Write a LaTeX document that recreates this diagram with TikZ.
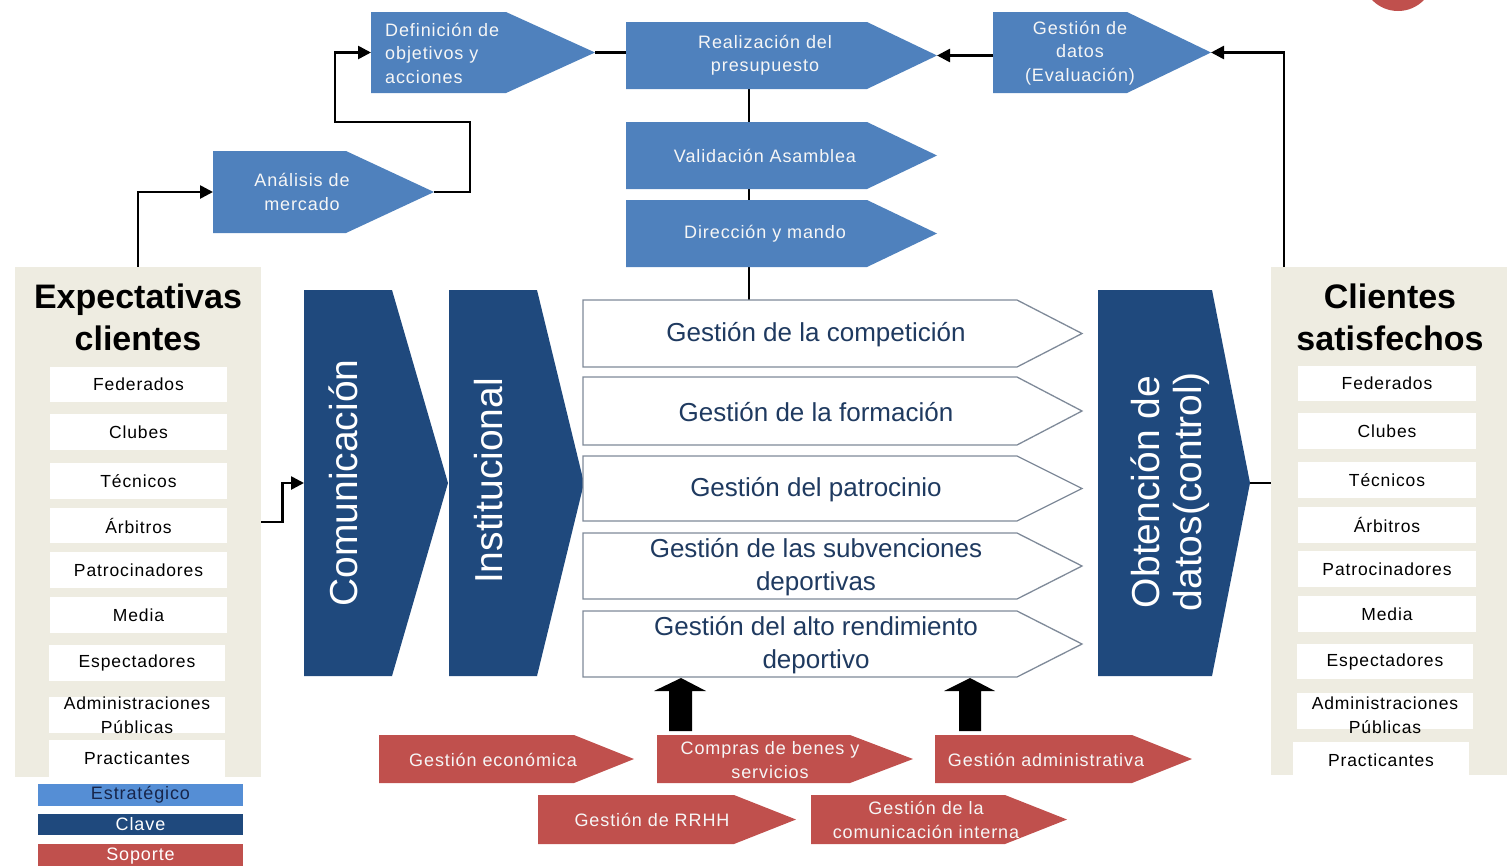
\documentclass[tikz,border=0pt]{standalone}
\usepackage{fontspec}
\setmainfont{Liberation Sans}
\newfontfamily\spaced[LetterSpace=5]{Liberation Sans}
\usetikzlibrary{arrows.meta}
\definecolor{sblue}{HTML}{4F81BD}
\definecolor{kblue}{HTML}{1F497D}
\definecolor{sred}{HTML}{C0504D}
\definecolor{beige}{HTML}{EEECE1}
\definecolor{lblue}{HTML}{558ED5}
\definecolor{navytxt}{HTML}{1F3A60}
\definecolor{legtxt}{HTML}{17254A}
\definecolor{wtxt}{HTML}{F6F6F6}
\definecolor{outl}{HTML}{7F8A99}
\newcommand\fsz[2]{\fontsize{#1}{#2}\selectfont}
% chevron: name, style, x-left, y-top, x-rect-end, x-tip, y-bottom
\newcommand\chev[7]{%
  \path[#2] (#3,#4) -- (#5,#4) -- (#6,{(#4+#7)/2}) -- (#5,#7) -- (#3,#7) -- cycle;
  \coordinate (#1-w) at (#3,{(#4+#7)/2});
  \coordinate (#1-e) at (#6,{(#4+#7)/2});}
% box node: name, style, x1, y1, x2, y2, text
\newcommand\bx[7]{\node[#2, minimum width={#5-#3}, minimum height={#6-#4}] (#1) at ({(#3+#5)/2},{(#4+#6)/2}) {#7};}
\begin{document}
\begin{tikzpicture}[x=1pt,y=-1pt,
  conn/.style={line width=2.6pt, -{Triangle[length=13pt,width=13pt]}},
  plain/.style={line width=2.6pt},
  stxt/.style={text=wtxt, font=\spaced\fsz{18}{23.5}, align=center, inner sep=0},
  ktxt/.style={text=white, font=\fsz{39}{42}, align=center, inner sep=0},
  gtxt/.style={text=navytxt, font=\fsz{26}{33}, align=center, inner sep=0},
  item/.style={fill=white, inner sep=0, text=black, font=\spaced\fsz{17.5}{24}, align=center},
  ttl/.style={font=\bfseries\fsz{34}{42}, align=center, inner sep=0, text=black},
  leg/.style={inner sep=0, font=\spaced\fsz{18}{20}},
  wchev/.style={draw=outl, fill=white, line width=1.3pt}]
\useasboundingbox (0,0) rectangle (1507,865);
\begin{scope}
\clip (0,0) rectangle (1507,865);
\fill[sred] (1398,-25) circle[radius=36];
\end{scope}

% side boxes
\bx{exp}{fill=beige,inner sep=0}{15}{267}{261}{777}{}
\bx{cs}{fill=beige,inner sep=0}{1271}{267}{1507}{775}{}
\node[ttl] (exp-t) at (138,317) {Expectativas\\clientes};
\node[ttl] (cs-t) at (1390,317) {Clientes\\satisfechos};

% left items
\bx{L1}{item}{50}{367}{227}{402}{Federados}
\bx{L2}{item}{50}{414}{227}{450}{Clubes}
\bx{L3}{item}{50}{463}{227}{499}{Técnicos}
\bx{L4}{item}{50}{508}{227}{543}{Árbitros}
\bx{L5}{item}{50}{552}{227}{588}{Patrocinadores}
\bx{L6}{item}{50}{597}{227}{633}{Media}
\bx{L7}{item}{49}{645}{225}{681}{Espectadores}
\bx{L8}{item}{49}{697}{225}{733}{}
\node[item, fill=none] (L8t) at (137,715) {Administraciones\\Públicas};
\bx{L9}{item}{49}{740}{225}{777}{Practicantes}
% right items
\bx{R1}{item}{1298}{366}{1476}{401}{Federados}
\bx{R2}{item}{1298}{413}{1476}{449}{Clubes}
\bx{R3}{item}{1298}{462}{1476}{498}{Técnicos}
\bx{R4}{item}{1298}{507}{1476}{543}{Árbitros}
\bx{R5}{item}{1298}{551}{1476}{587}{Patrocinadores}
\bx{R6}{item}{1298}{596}{1476}{632}{Media}
\bx{R7}{item}{1297}{644}{1473}{679}{Espectadores}
\bx{R8}{item}{1297}{693}{1473}{729}{}
\node[item, fill=none] (R8t) at (1385,715) {Administraciones\\Públicas};
\bx{R9}{item}{1293}{742}{1469}{778}{Practicantes}

% legend
\bx{lg1}{leg, fill=lblue, text=legtxt}{38}{784}{243}{806}{Estratégico}
\bx{lg2}{leg, fill=kblue, text=white}{38}{814}{243}{835}{Clave}
\bx{lg3}{leg, fill=sred, text=white}{38}{844}{243}{868}{Soporte}

% vertical spine
\coordinate (rea-s) at (749,89);
\coordinate (g1-n) at (749,300);
\draw[line width=2pt] (rea-s) -- (g1-n);

% strategic chevrons
\chev{def}{fill=sblue}{371}{12}{506}{595}{93}
\chev{ana}{fill=sblue}{213}{151}{346}{434}{233}
\chev{rea}{fill=sblue}{626}{22}{867}{937}{89}
\chev{val}{fill=sblue}{626}{122}{867}{937}{189}
\chev{dir}{fill=sblue}{626}{200}{867}{937}{267}
\chev{gd}{fill=sblue}{993}{12}{1127}{1211}{93}
\node[stxt, align=left, anchor=west] (def-t) at (385,53) {Definición de\\objetivos y\\acciones};
\node[stxt] (ana-t) at (302,192) {Análisis de\\mercado};
\node[stxt] (rea-t) at (765,55) {Realización del\\presupuesto};
\node[stxt] (val-t) at (765,156) {Validación Asamblea};
\node[stxt] (dir-t) at (765,234) {Dirección y mando};
\node[stxt] (gd-t) at (1080,53) {Gestión de\\datos\\(Evaluación)};

% key chevrons
\chev{com}{fill=kblue}{304}{290}{392}{448}{676}
\chev{ins}{fill=kblue}{449}{290}{537}{584}{676}
\chev{obt}{fill=kblue}{1098}{290}{1212}{1250}{676}
\node[ktxt, rotate=90] (com-t) at (343,483) {Comunicación};
\node[ktxt, rotate=90] (ins-t) at (489,481) {Institucional};
\node[ktxt, rotate=90] (obt-t) at (1170,492) {Obtención de\\datos(control)};

% white chevrons
\chev{g1}{wchev}{583}{300}{1017}{1082}{367}
\chev{g2}{wchev}{583}{377}{1017}{1082}{445}
\chev{g3}{wchev}{583}{456}{1017}{1082}{521}
\chev{g4}{wchev}{583}{533}{1017}{1082}{599}
\chev{g5}{wchev}{583}{611}{1017}{1082}{677}
\node[gtxt] (g1-t) at (816,335) {Gestión de la competición};
\node[gtxt] (g2-t) at (816,412) {Gestión de la formación};
\node[gtxt] (g3-t) at (816,490) {Gestión del patrocinio};
\node[gtxt] (g4-t) at (816,567) {Gestión de las subvenciones\\deportivas};
\node[gtxt] (g5-t) at (816,645) {Gestión del alto rendimiento\\deportivo};

% support chevrons
\chev{r1}{fill=sred}{379}{735}{574}{634}{783}
\chev{r2}{fill=sred}{657}{735}{850}{913}{783}
\chev{r3}{fill=sred}{935}{735}{1132}{1192}{783}
\chev{r4}{fill=sred}{538}{795}{734}{796}{844}
\chev{r5}{fill=sred}{811}{795}{1005}{1067}{844}
\node[stxt] (r1-t) at (493,760) {Gestión económica};
\node[stxt] (r2-t) at (770,760) {Compras de benes y\\servicios};
\node[stxt] (r3-t) at (1046,760) {Gestión administrativa};
\node[stxt] (r4-t) at (652,820) {Gestión de RRHH};
\node[stxt] (r5-t) at (926,820) {Gestión de la\\comunicación interna};

% block arrows
\fill (669,731) -- (669,691) -- (654,691) -- (681,678) -- (706,691) -- (692,691) -- (692,731) -- cycle;
\fill (959,731) -- (959,691) -- (944,691) -- (970,678) -- (995,691) -- (981,691) -- (981,731) -- cycle;

% connectors
\coordinate (k1) at (470,122);
\coordinate (k2) at (335,122);
\coordinate (cs-top) at (1284,267);
\draw[conn] (exp.north) |- (ana-w);
\draw[conn] (ana-e) -| (k1) -- (k2) |- (def-w);
\draw[plain] (def-e) -- (def-e -| rea-w);
\draw[conn] (gd-w |- rea-e) -- (rea-e);
\draw[conn] (cs-top) |- (gd-e);
\draw[conn] (exp.east) -- ++(21,0) |- (com-w);
\draw[plain] (obt-e) -- (obt-e -| cs.west);
\end{tikzpicture}
\end{document}
